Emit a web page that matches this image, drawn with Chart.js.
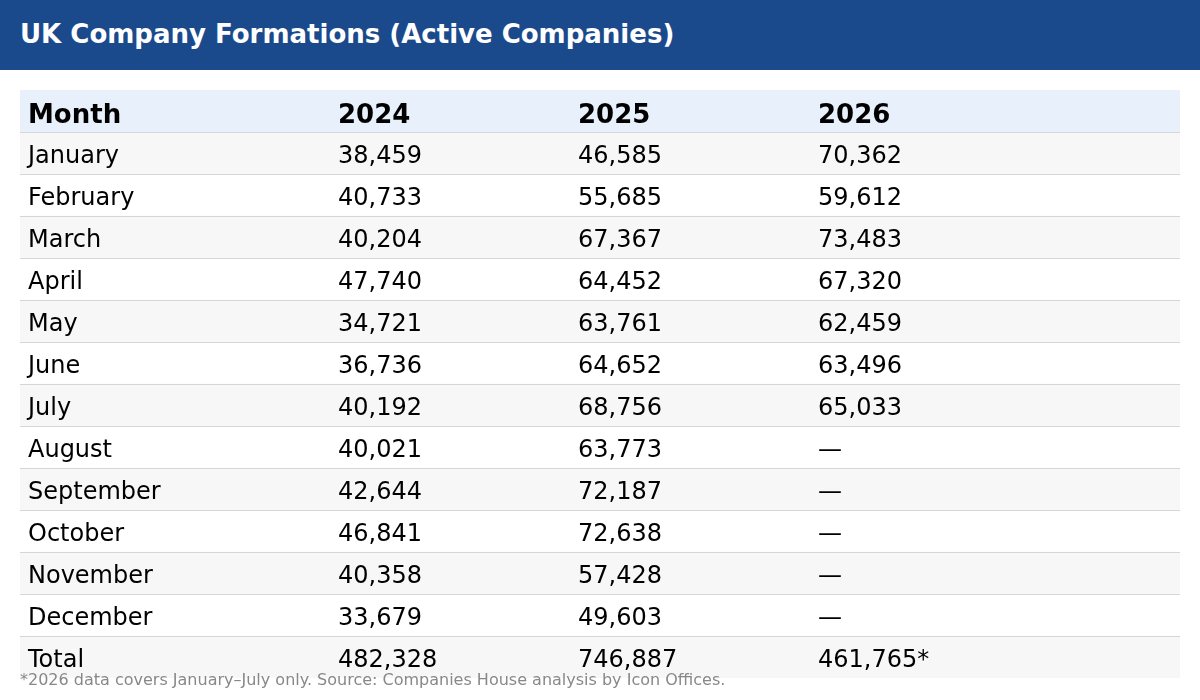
<!DOCTYPE html>
<html>
<head>
<meta charset="utf-8">
<script src="https://cdn.jsdelivr.net/npm/chart.js@4.4.1/dist/chart.umd.min.js"></script>
<style>
  body { margin: 0; width: 1200px; height: 700px; background: #fff; font-family: 'DejaVu Sans', sans-serif; overflow: hidden; }
  .head { position: absolute; left: 0; top: 0; width: 1200px; height: 70px; background: #1b4a8c; }
  .head h1 { margin: 0; position: absolute; left: 20px; top: 19px; font-size: 26px; font-weight: bold; color: #fff; }
  .wrap { position: absolute; left: 0; top: 0; width: 1200px; height: 700px; }
  .note { position: absolute; left: 20px; top: 670px; font-size: 16px; color: #888; }
</style>
</head>
<body>
<div class="head"><h1>UK Company Formations (Active Companies)</h1></div>
<div class="wrap"><canvas id="tbl"></canvas></div>
<div class="note">*2026 data covers January–July only. Source: Companies House analysis by Icon Offices.</div>
<script>
const columns = ['Month', '2024', '2025', '2026'];
const months = ['January', 'February', 'March', 'April', 'May', 'June', 'July',
  'August', 'September', 'October', 'November', 'December'];
const values2024 = [38459, 40733, 40204, 47740, 34721, 36736, 40192, 40021, 42644, 46841, 40358, 33679];
const values2025 = [46585, 55685, 67367, 64452, 63761, 64652, 68756, 63773, 72187, 72638, 57428, 49603];
const values2026 = [70362, 59612, 73483, 67320, 62459, 63496, 65033, null, null, null, null, null];
const totals = ['482,328', '746,887', '461,765*'];

const fmt = v => v == null ? '—' : v.toLocaleString('en-GB');
const rows = [columns]
  .concat(months.map((m, i) => [m, fmt(values2024[i]), fmt(values2025[i]), fmt(values2026[i])]))
  .concat([['Total'].concat(totals)]);
const rowLabels = rows.map(r => r[0]);
const colOffsets = [8, 318, 558, 798]; // left edge of each column text, in table units

const tablePlugin = {
  id: 'tableText',
  afterDatasetsDraw(chart) {
    const ctx = chart.ctx;
    const xs = chart.scales.x, ys = chart.scales.y;
    const area = chart.chartArea;
    const rowH = ys.getPixelForValue(1) - ys.getPixelForValue(0);
    ctx.save();
    // row separators
    ctx.strokeStyle = '#d6d6d6';
    ctx.lineWidth = 1;
    for (let i = 0; i < rows.length - 1; i++) {
      const y = Math.round(ys.getPixelForValue(i) + rowH / 2) + 0.5;
      ctx.beginPath();
      ctx.moveTo(area.left, y);
      ctx.lineTo(area.right, y);
      ctx.stroke();
    }
    ctx.textBaseline = 'middle';
    ctx.textAlign = 'left';
    rows.forEach((r, i) => {
      const y = ys.getPixelForValue(i) + (i === 0 ? 5 : 3.5);
      ctx.font = i === 0 ? 'bold 26px "DejaVu Sans"' : '24px "DejaVu Sans"';
      ctx.fillStyle = '#000';
      r.forEach((txt, c) => ctx.fillText(txt, xs.getPixelForValue(colOffsets[c]), y));
    });
    ctx.restore();
  }
};

new Chart(document.getElementById('tbl'), {
  type: 'bar',
  data: {
    labels: rowLabels,
    datasets: [{
      data: rowLabels.map(() => 1160),
      backgroundColor: rowLabels.map((_, i) => i === 0 ? '#e8f0fb' : (i % 2 === 1 ? '#f7f7f7' : '#ffffff')),
      borderWidth: 0,
      barPercentage: 1,
      categoryPercentage: 1
    }]
  },
  options: {
    indexAxis: 'y',
    responsive: true,
    maintainAspectRatio: false,
    animation: false,
    layout: { padding: { left: 20, right: 20, top: 90, bottom: 22 } },
    scales: {
      x: { display: false, min: 0, max: 1160 },
      y: { display: false }
    },
    plugins: { legend: { display: false }, tooltip: { enabled: false } }
  },
  plugins: [tablePlugin]
});
</script>
</body>
</html>
